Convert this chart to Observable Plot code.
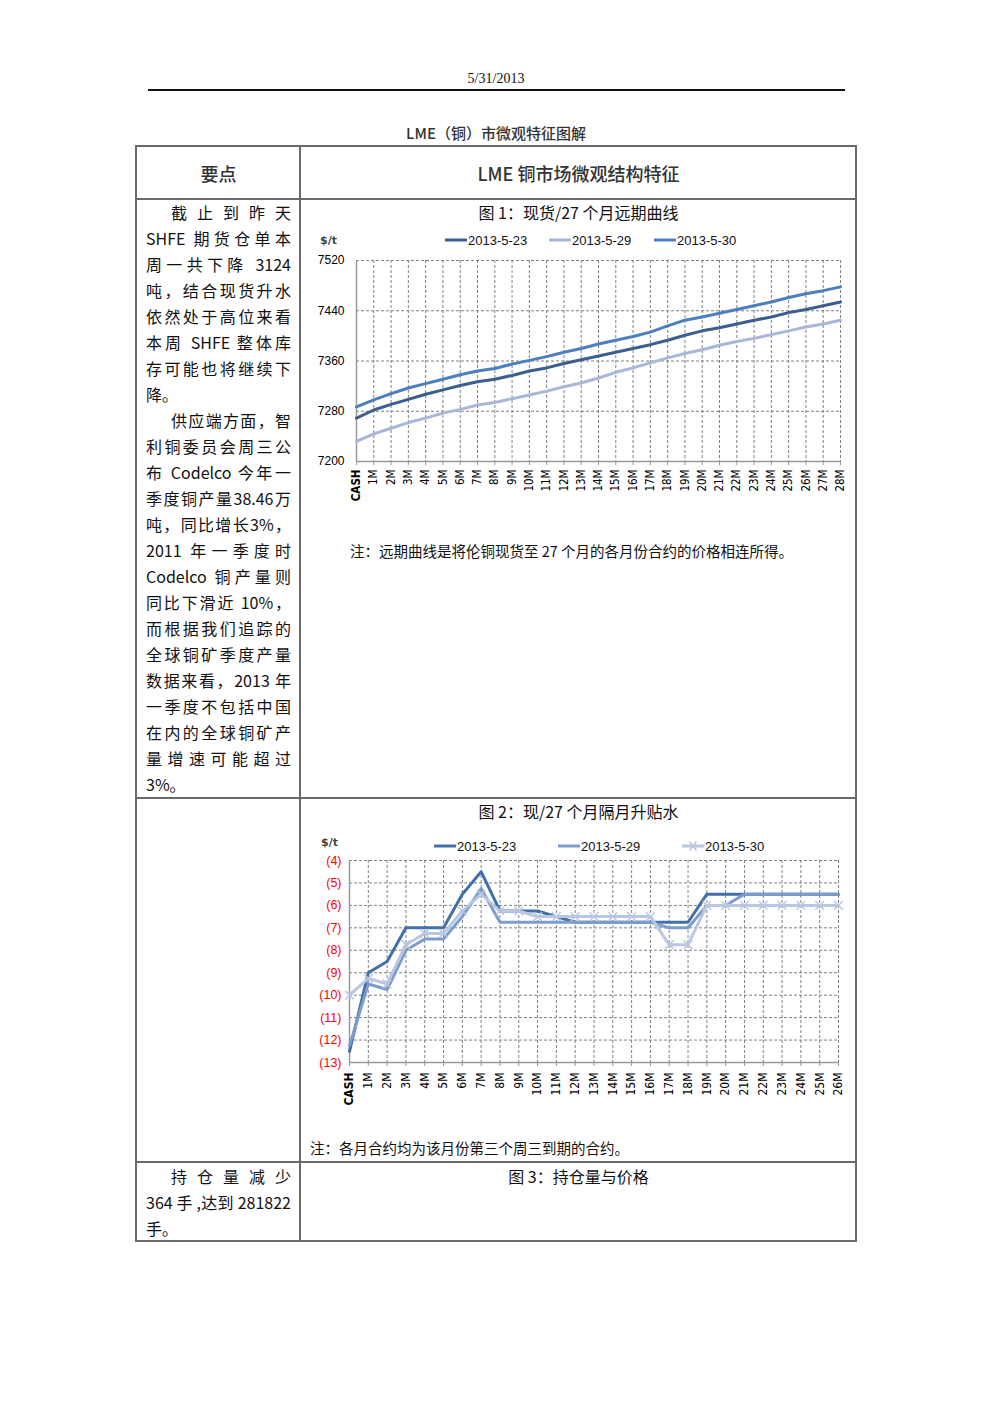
<!DOCTYPE html>
<html><head><meta charset="utf-8">
<script src="https://cdn.jsdelivr.net/npm/d3@7"></script>
<script src="https://cdn.jsdelivr.net/npm/@observablehq/plot@0.6"></script>
<style>
body{margin:0;background:#fff;}
#page{position:relative;width:992px;height:1403px;font-family:"Noto Sans CJK SC","Noto Sans",sans-serif;color:#111;overflow:hidden;}
.a{position:absolute;white-space:nowrap;}
.hl{position:absolute;background:#6a6a6a;height:2px;}
.vl{position:absolute;background:#6a6a6a;width:2px;}
.ln{position:absolute;left:146px;width:145px;height:26px;line-height:26px;font-size:16px;text-align:justify;text-align-last:justify;white-space:nowrap;}
.ln.last{text-align-last:left;}
.ln.ind{padding-left:25px;width:120px;}
.ctr{text-align:center;}
.leg{position:absolute;font-family:"Liberation Sans",Arial,sans-serif;font-size:13px;display:flex;align-items:center;white-space:nowrap;}
.leg svg{margin-right:1px;}
.unit{position:absolute;font-family:"DejaVu Sans",sans-serif;font-size:11px;font-weight:bold;color:#444;}
</style></head><body><div id="page" lang="zh-CN"></div>
<script>
// ---------- Data ----------
const dates = ["2013-5-23","2013-5-29","2013-5-30"];

const tenors1 = ["CASH","1M","2M","3M","4M","5M","6M","7M","8M","9M","10M","11M","12M","13M","14M","15M","16M","17M","18M","19M","20M","21M","22M","23M","24M","25M","26M","27M","28M"];
const fwd0523 = [7269,7282,7291,7299,7307,7314,7321,7327,7331,7337,7344,7349,7356,7362,7368,7374,7380,7386,7393,7401,7408,7413,7419,7425,7430,7437,7442,7448,7454];
const fwd0529 = [7232,7244,7253,7262,7269,7277,7283,7290,7294,7300,7306,7312,7319,7325,7333,7342,7349,7357,7365,7372,7378,7385,7391,7396,7402,7408,7414,7419,7425];
const fwd0530 = [7287,7298,7308,7317,7324,7331,7338,7344,7348,7355,7361,7367,7374,7380,7387,7393,7399,7406,7416,7425,7430,7436,7442,7448,7454,7461,7467,7472,7478];
const yTicks1 = [7200,7280,7360,7440,7520];

const tenors2 = ["CASH","1M","2M","3M","4M","5M","6M","7M","8M","9M","10M","11M","12M","13M","14M","15M","16M","17M","18M","19M","20M","21M","22M","23M","24M","25M","26M"];
const spr0523 = [-12.5,-9,-8.5,-7,-7,-7,-5.5,-4.5,-6.25,-6.25,-6.25,-6.5,-6.75,-6.75,-6.75,-6.75,-6.75,-6.75,-6.75,-5.5,-5.5,-5.5,-5.5,-5.5,-5.5,-5.5,-5.5];
const spr0529 = [-12.25,-9.5,-9.75,-8,-7.5,-7.5,-6.5,-5.25,-6.75,-6.75,-6.75,-6.75,-6.75,-6.75,-6.75,-6.75,-6.75,-7,-7,-6,-6,-5.5,-5.5,-5.5,-5.5,-5.5,-5.5];
const spr0530 = [-10,-9.25,-9.5,-7.75,-7.25,-7.25,-6.25,-5.5,-6.25,-6.25,-6.5,-6.5,-6.5,-6.5,-6.5,-6.5,-6.5,-7.75,-7.75,-6,-6,-6,-6,-6,-6,-6,-6];
const yTicks2 = [-4,-5,-6,-7,-8,-9,-10,-11,-12,-13];

const colors1 = ["#395e8f","#a8b7d8","#4b7fbd"];
const colors2 = ["#4270a8","#7c9ccb","#b9c7e2"];

const textCol1 = [
  ["截 止 到 昨 天","ind"],
  ["SHFE 期货仓单本",""],
  ["周一共下降 3124",""],
  ["吨，结合现货升水",""],
  ["依然处于高位来看",""],
  ["本周 SHFE 整体库",""],
  ["存可能也将继续下",""],
  ["降。","last"],
  ["供应端方面，智","ind"],
  ["利铜委员会周三公",""],
  ["布 Codelco 今年一",""],
  ["季度铜产量38.46万",""],
  ["吨，同比增长3%，",""],
  ["2011 年一季度时",""],
  ["Codelco 铜产量则",""],
  ["同比下滑近 10%，",""],
  ["而根据我们追踪的",""],
  ["全球铜矿季度产量",""],
  ["数据来看，2013 年",""],
  ["一季度不包括中国",""],
  ["在内的全球铜矿产",""],
  ["量增速可能超过",""],
  ["3%。","last"]
];
const textCol3 = [
  ["持 仓 量 减 少","ind"],
  ["364 手 ,达到 281822",""],
  ["手。","last"]
];

// ---------- Page scaffold ----------
const page = document.getElementById("page");
function add(html){ page.insertAdjacentHTML("beforeend", html); }

add(`<div class="a" style="left:0;width:992px;top:71px;text-align:center;font-family:'Liberation Serif',serif;font-size:14px;">5/31/2013</div>`);
add(`<div class="a" style="left:148px;top:89px;width:697px;height:1.5px;background:#111;"></div>`);
add(`<div class="a" style="left:0;width:992px;top:122px;text-align:center;font-size:15px;font-weight:500;color:#333;">LME（铜）市微观特征图解</div>`);

// table lines
add(`<div class="hl" style="left:136px;top:145px;width:721px;"></div>`);
add(`<div class="hl" style="left:136px;top:198px;width:721px;"></div>`);
add(`<div class="hl" style="left:136px;top:797px;width:721px;"></div>`);
add(`<div class="hl" style="left:136px;top:1161px;width:721px;"></div>`);
add(`<div class="hl" style="left:136px;top:1240px;width:721px;"></div>`);
add(`<div class="vl" style="left:135px;top:145px;height:1097px;"></div>`);
add(`<div class="vl" style="left:299px;top:145px;height:1097px;"></div>`);
add(`<div class="vl" style="left:855px;top:145px;height:1097px;"></div>`);

add(`<div class="a ctr" style="left:137px;width:163px;top:160px;font-size:18px;font-weight:500;color:#333;">要点</div>`);
add(`<div class="a ctr" style="left:301px;width:555px;top:160px;font-size:18px;font-weight:500;color:#333;">LME 铜市场微观结构特征</div>`);

textCol1.forEach(([t,c],i)=>{
  add(`<div class="ln ${c}" style="top:${199+i*26}px;">${t}</div>`);
});
textCol3.forEach(([t,c],i)=>{
  add(`<div class="ln ${c}" style="top:${1163+i*26}px;">${t}</div>`);
});

add(`<div class="a ctr" style="left:301px;width:555px;top:200px;font-size:16px;">图 1：现货/27 个月远期曲线</div>`);
add(`<div class="a" style="left:350px;top:540px;font-size:14.5px;">注：远期曲线是将伦铜现货至 27 个月的各月份合约的价格相连所得。</div>`);
add(`<div class="a ctr" style="left:301px;width:555px;top:799px;font-size:16px;">图 2：现/27 个月隔月升贴水</div>`);
add(`<div class="a" style="left:310px;top:1137px;font-size:14.5px;">注：各月合约均为该月份第三个周三到期的合约。</div>`);
add(`<div class="a ctr" style="left:301px;width:555px;top:1164px;font-size:16px;">图 3：持仓量与价格</div>`);

// units
add(`<div class="unit" style="left:320px;top:234px;">$/t</div>`);
add(`<div class="unit" style="left:321px;top:836px;">$/t</div>`);

// legends
function legendItem(x, y, color, label, marker){
  const m = marker ? `<path d="M7.5,-4.5 L14.5,4.5 M7.5,4.5 L14.5,-4.5" transform="translate(0,6)" stroke="${color}" stroke-width="1.5"/>` : "";
  add(`<div class="leg" style="left:${x}px;top:${y-8}px;height:16px;"><svg width="22" height="12" style="overflow:visible"><line x1="0" y1="6" x2="22" y2="6" stroke="${color}" stroke-width="3"/>${m}</svg><span>${label}</span></div>`);
}
legendItem(445, 240, colors1[0], dates[0]);
legendItem(549, 240, colors1[1], dates[1]);
legendItem(654, 240, colors1[2], dates[2]);
legendItem(434, 846, colors2[0], dates[0]);
legendItem(558, 846, colors2[1], dates[1]);
legendItem(682, 846, colors2[2], dates[2], true);

// ---------- Chart 1 ----------
const rows1 = [];
[fwd0523, fwd0529, fwd0530].forEach((arr, k) => arr.forEach((v, i) => rows1.push({tenor: tenors1[i], date: dates[k], v})));
const gridStyle = {stroke:"#808080", strokeOpacity:1, strokeDasharray:"3,2", strokeWidth:1};
const chart1 = Plot.plot({
  width: 545, height: 290,
  marginLeft: 51, marginRight: 10, marginTop: 32, marginBottom: 57,
  style: {fontFamily: "'Liberation Sans', Arial, sans-serif", fontSize: "12px", color: "#000", background: "transparent", overflow: "visible"},
  x: {type: "point", domain: tenors1, padding: 0, round: false, label: null},
  y: {domain: [7200, 7520], label: null},
  color: {domain: dates, range: colors1},
  marks: [
    Plot.gridY(yTicks1.slice(1), gridStyle),
    Plot.gridX(tenors1.slice(1), gridStyle),
    Plot.ruleX([tenors1[0]], {stroke: "#999", strokeWidth: 1.5}),
    Plot.ruleY([7200], {stroke: "#999", strokeWidth: 1.5}),
    Plot.axisY(yTicks1, {tickSize: 0, tickPadding: 12, label: null, tickFormat: d => String(d)}),
    Plot.axisX(tenors1, {tickRotate: -90, tickSize: 4, tickPadding: 4, label: null, fontSize: 11.5, fontFamily: "'DejaVu Sans Condensed','DejaVu Sans',sans-serif", stroke: "#999"}),
    Plot.line(rows1, {x: "tenor", y: "v", z: "date", stroke: "date", strokeWidth: 3})
  ]
});
chart1.style.position = "absolute";
chart1.style.left = "305px";
chart1.style.top = "228px";
page.appendChild(chart1);

// ---------- Chart 2 ----------
const rows2 = [];
[spr0523, spr0529, spr0530].forEach((arr, k) => arr.forEach((v, i) => rows2.push({tenor: tenors2[i], date: dates[k], v})));
const chart2 = Plot.plot({
  width: 545, height: 290,
  marginLeft: 44, marginRight: 12, marginTop: 20, marginBottom: 68,
  style: {fontFamily: "'Liberation Sans', Arial, sans-serif", fontSize: "12.5px", color: "#000", background: "transparent", overflow: "visible"},
  x: {type: "point", domain: tenors2, padding: 0, round: false, label: null},
  y: {domain: [-13, -4], label: null},
  color: {domain: dates, range: colors2},
  marks: [
    Plot.gridY(yTicks2.filter(d => d !== -13), gridStyle),
    Plot.gridX(tenors2.slice(1), gridStyle),
    Plot.ruleX([tenors2[0]], {stroke: "#999", strokeWidth: 1.5}),
    Plot.ruleY([-13], {stroke: "#999", strokeWidth: 1.5}),
    Plot.axisY(yTicks2, {tickSize: 0, tickPadding: 8, label: null, color: "#ff0000", tickFormat: d => `(${-d})`}),
    Plot.axisX(tenors2, {tickRotate: -90, tickSize: 4, tickPadding: 6, label: null, fontSize: 12, fontFamily: "'DejaVu Sans Condensed','DejaVu Sans',sans-serif", stroke: "#999"}),
    Plot.line(rows2, {x: "tenor", y: "v", z: "date", stroke: "date", strokeWidth: 3}),
    Plot.dot(rows2.filter(d => d.date === dates[2]), {x: "tenor", y: "v", symbol: "times", r: 4, stroke: colors2[2], strokeWidth: 1.5})
  ]
});
chart2.style.position = "absolute";
chart2.style.left = "305px";
chart2.style.top = "840px";
page.appendChild(chart2);

// bold CASH label
[chart1, chart2].forEach(ch => {
  d3.select(ch).selectAll("text").filter(function(){ return this.textContent === "CASH"; }).attr("font-weight", "bold");
});
</script>
</body></html>
